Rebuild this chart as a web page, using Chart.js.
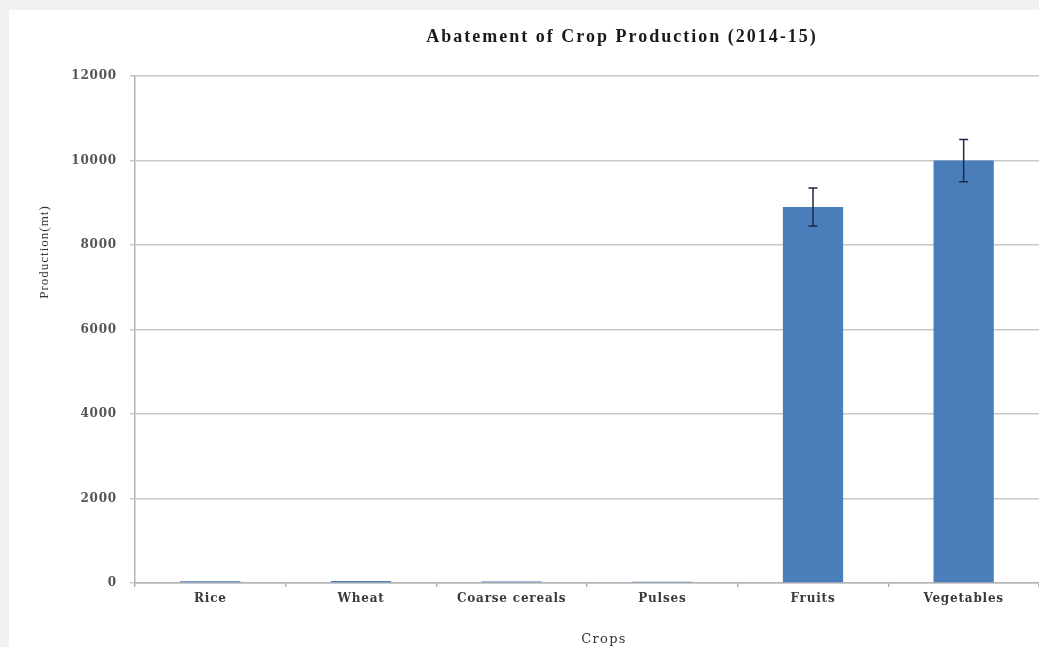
<!DOCTYPE html>
<html>
<head>
<meta charset="utf-8">
<title>Abatement of Crop Production (2014-15)</title>
<script src="https://cdn.jsdelivr.net/npm/chart.js@4/dist/chart.umd.min.js"></script>
<style>
  html, body { margin: 0; padding: 0; background: #eff1f3; overflow: hidden; width: 1039px; height: 647px; }
  #panel { position: absolute; left: 9px; top: 10px; width: 1226px; height: 637px; background: #fff; }
</style>
</head>
<body>
<div id="panel"><canvas id="cropChart" width="1226" height="637"></canvas></div>
<script>
// chart data
const crops = ['Rice', 'Wheat', 'Coarse cereals', 'Pulses', 'Fruits', 'Vegetables'];
const production = [40, 45, 35, 30, 8900, 10000];
const errors = [0, 0, 0, 0, 450, 500];
const yTicks = [0, 2000, 4000, 6000, 8000, 10000, 12000];

const chartTitle = 'Abatement of Crop Production (2014-15)';
const yTitle = 'Production(mt)';
const xTitle = 'Crops';

// letter spacing for tick labels (canvas resets it on resize)
const spacing = {
    id: 'spacing',
    beforeUpdate(chart) { chart.ctx.letterSpacing = '0.8px'; },
    beforeDraw(chart) { chart.ctx.letterSpacing = '0.8px'; }
};

// error bars drawn from the y scale
const errorBars = {
    id: 'errorBars',
    afterDatasetsDraw(chart) {
        const ctx = chart.ctx;
        const y = chart.scales.y;
        const meta = chart.getDatasetMeta(0);
        ctx.save();
        ctx.strokeStyle = '#1c2a45';
        ctx.lineWidth = 1.5;
        meta.data.forEach((bar, i) => {
            const e = errors[i];
            if (!e) return;
            const top = y.getPixelForValue(production[i] + e);
            const bot = y.getPixelForValue(production[i] - e);
            ctx.beginPath();
            ctx.moveTo(bar.x, top); ctx.lineTo(bar.x, bot);
            ctx.moveTo(bar.x - 4.5, top); ctx.lineTo(bar.x + 4.5, top);
            ctx.moveTo(bar.x - 4.5, bot); ctx.lineTo(bar.x + 4.5, bot);
            ctx.stroke();
        });
        ctx.restore();
    }
};

// titles
const titles = {
    id: 'titles',
    afterDraw(chart) {
        const ctx = chart.ctx;
        ctx.save();
        ctx.textAlign = 'center';
        ctx.textBaseline = 'middle';

        ctx.fillStyle = '#1a1a1a';
        ctx.font = 'bold 18px "Liberation Serif"';
        ctx.letterSpacing = '2px';
        ctx.fillText(chartTitle, chart.width / 2, 27);

        ctx.fillStyle = '#333';
        ctx.font = '13px "DejaVu Serif"';
        ctx.letterSpacing = '1.3px';
        ctx.fillText(xTitle, 595, 630);

        ctx.font = '13px "Liberation Serif"';
        ctx.letterSpacing = '1px';
        ctx.translate(36, 242);
        ctx.rotate(-Math.PI / 2);
        ctx.fillText(yTitle, 0, 0);
        ctx.restore();
    }
};

new Chart(document.getElementById('cropChart'), {
    type: 'bar',
    data: {
        labels: crops,
        datasets: [{
            label: 'Production',
            data: production,
            backgroundColor: '#4a7ebb',
            borderWidth: 0,
            categoryPercentage: 1,
            barPercentage: 0.4
        }]
    },
    options: {
        responsive: false,
        animation: false,
        layout: { padding: { left: 0, top: 66, right: 196, bottom: 0 } },
        plugins: {
            legend: { display: false },
            title: { display: false },
            tooltip: { enabled: false }
        },
        scales: {
            x: {
                afterFit: (s) => { s.height = 64; },
                grid: { drawOnChartArea: false, drawTicks: true, tickLength: 4, color: '#b4b4b4', lineWidth: 1.5, offset: true },
                border: { color: '#b4b4b4', width: 1.5 },
                ticks: {
                    color: '#3a3a3a',
                    padding: 5,
                    font: { family: '"DejaVu Serif"', weight: 'bold', size: 12 }
                }
            },
            y: {
                min: yTicks[0],
                max: yTicks[yTicks.length - 1],
                afterFit: (s) => { s.width = 126; },
                afterBuildTicks: (s) => { s.ticks = yTicks.map(v => ({ value: v })); },
                grid: { color: '#c8c8c8', lineWidth: 1.5, tickLength: 5 },
                border: { color: '#b4b4b4', width: 1.5 },
                ticks: {
                    color: '#555',
                    padding: 13,
                    callback: (v) => String(v),
                    font: { family: '"DejaVu Serif"', weight: 'bold', size: 12 }
                }
            }
        }
    },
    plugins: [spacing, errorBars, titles]
});
</script>
</body>
</html>
